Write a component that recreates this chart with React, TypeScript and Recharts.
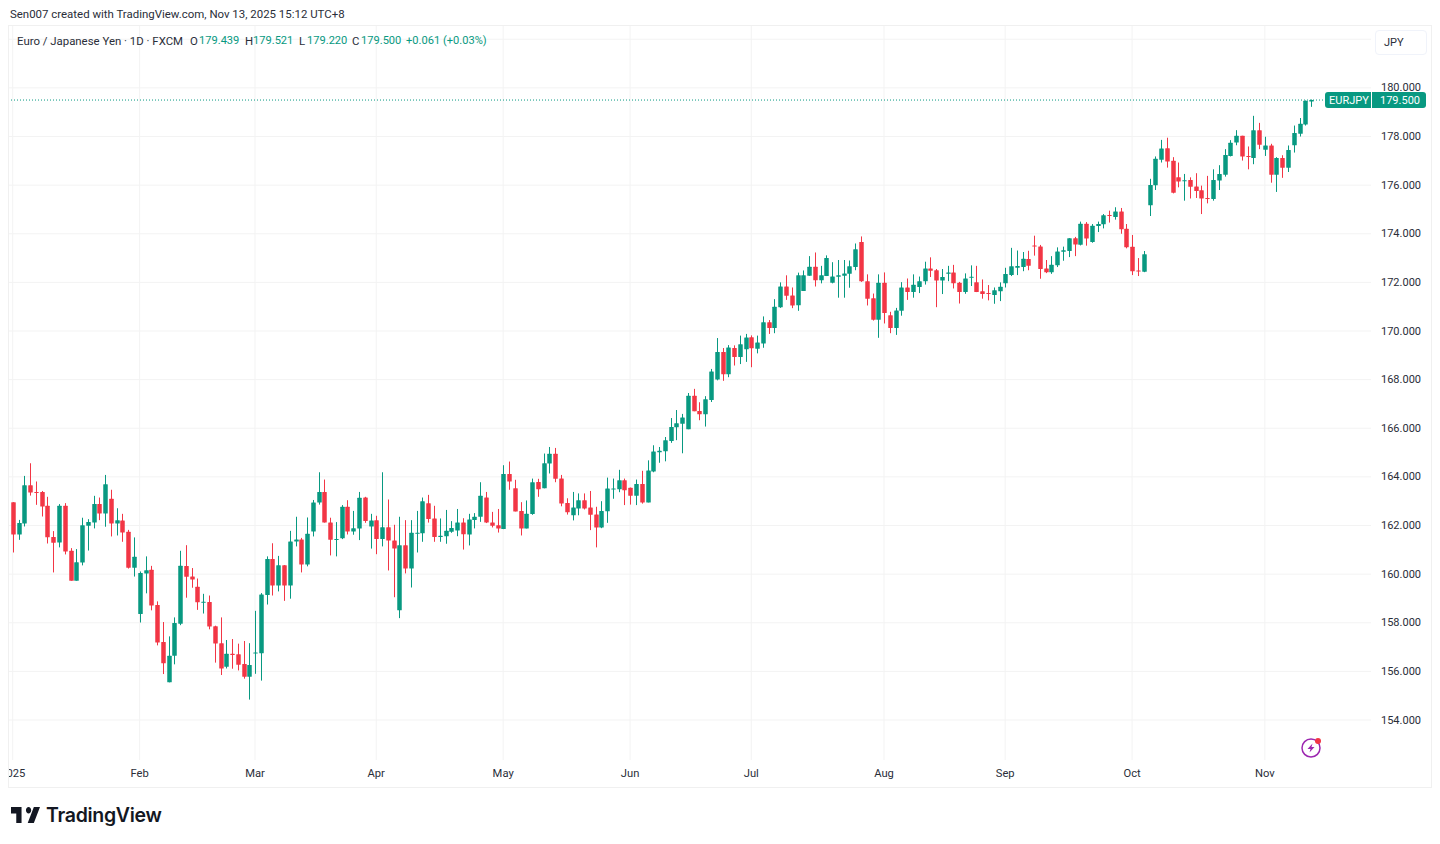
import React from 'react';
import { ComposedChart, Bar, XAxis, YAxis, CartesianGrid, ReferenceLine } from 'recharts';

const UP = '#089981';
const DOWN = '#f23645';
const GRID = '#f3f3f3';
const TEXT = '#2a2e39';
const FONT = 'Roboto, sans-serif';

// Daily EURJPY candles, Jan 2025 to Nov 13 2025
const opens = [
  162.96, 161.63, 162.08, 163.66, 163.38, 163.38, 162.81, 161.53, 161.30, 162.81,
  160.96, 159.73, 160.48, 161.99, 162.12, 162.88, 162.49, 163.10, 162.08, 162.21,
  161.74, 160.26, 158.36, 160.03, 160.18, 158.73, 157.21, 155.55, 156.64, 157.96,
  160.33, 159.90, 159.48, 158.84, 158.85, 157.86, 157.16, 156.19, 156.73, 156.70,
  156.30, 155.78, 156.75, 156.75, 159.14, 160.62, 159.53, 160.37, 159.53, 161.34,
  161.42, 160.40, 161.75, 162.95, 163.38, 162.12, 161.41, 161.48, 162.77, 161.75,
  161.88, 163.15, 161.96, 162.22, 161.45, 161.93, 161.38, 158.51, 161.19, 160.23,
  161.67, 161.68, 162.92, 162.29, 161.53, 161.56, 161.74, 161.79, 162.12, 161.63,
  162.23, 162.36, 163.15, 162.12, 162.01, 161.86, 164.12, 163.53, 162.60, 161.88,
  162.47, 163.79, 163.53, 164.55, 164.95, 163.93, 162.93, 162.42, 162.70, 163.04,
  162.74, 162.45, 161.92, 162.59, 163.49, 163.49, 163.86, 163.55, 163.22, 163.71,
  162.95, 164.22, 165.01, 165.05, 165.48, 166.04, 166.19, 165.96, 167.34, 166.71,
  166.58, 167.16, 168.01, 169.14, 168.22, 169.30, 168.93, 169.25, 169.74, 169.27,
  169.49, 170.36, 170.12, 170.98, 171.83, 171.46, 171.06, 171.65, 172.27, 172.64,
  172.09, 172.26, 171.98, 172.23, 172.27, 172.35, 172.63, 173.66, 172.05, 171.35,
  170.46, 171.98, 170.65, 170.12, 170.83, 171.79, 171.60, 171.81, 172.05, 172.57,
  172.50, 172.08, 172.35, 172.41, 171.98, 171.60, 172.19, 172.01, 171.64, 171.56,
  171.48, 171.64, 171.96, 172.30, 172.60, 172.63, 172.96, 173.52, 173.48, 172.57,
  172.42, 172.70, 173.26, 173.29, 173.82, 173.55, 174.41, 173.66, 174.32, 174.39,
  174.77, 174.69, 174.92, 174.21, 173.47, 172.49, 172.44, 175.17, 175.99, 177.04,
  177.52, 177.00, 176.32, 176.17, 176.21, 175.94, 175.79, 175.47, 175.43, 176.19,
  176.43, 177.20, 177.75, 178.03, 177.20, 177.12, 178.26, 177.45, 177.63, 176.43,
  177.12, 176.71, 177.64, 178.11, 178.49, 179.439,
];

const closes = [
  161.63, 162.10, 163.66, 163.36, 163.36, 162.78, 161.52, 161.29, 162.81, 160.93,
  159.73, 160.49, 162.01, 162.14, 162.88, 162.49, 163.70, 162.08, 162.22, 161.71,
  160.26, 160.71, 160.05, 160.16, 158.71, 157.19, 156.33, 156.64, 157.99, 160.34,
  159.89, 159.78, 158.84, 158.86, 157.85, 157.15, 156.12, 156.73, 156.67, 156.27,
  155.78, 156.26, 156.78, 159.16, 160.62, 159.53, 160.37, 159.53, 161.34, 161.42,
  160.40, 161.66, 162.95, 163.38, 162.12, 161.41, 161.44, 162.77, 161.75, 161.89,
  163.14, 162.19, 162.21, 161.45, 161.93, 161.38, 161.05, 161.19, 160.23, 161.70,
  161.70, 163.00, 162.27, 161.53, 161.58, 161.78, 161.90, 162.12, 161.64, 162.25,
  162.36, 163.22, 162.12, 161.99, 161.88, 164.12, 163.81, 162.58, 161.88, 162.48,
  163.78, 163.49, 164.56, 164.95, 163.92, 162.90, 162.55, 162.74, 163.04, 162.70,
  162.44, 161.92, 162.60, 163.52, 163.52, 163.86, 163.45, 163.22, 163.71, 162.95,
  164.26, 165.04, 165.07, 165.51, 166.05, 166.21, 166.44, 167.34, 166.70, 166.58,
  167.19, 168.33, 169.14, 168.22, 169.32, 168.93, 169.45, 169.73, 169.29, 169.53,
  170.36, 170.12, 171.00, 171.83, 171.45, 171.05, 172.29, 172.29, 172.64, 172.09,
  172.29, 173.00, 172.24, 172.29, 172.37, 172.66, 173.36, 172.05, 171.33, 170.46,
  171.98, 170.74, 170.12, 170.84, 171.79, 171.60, 171.90, 172.05, 172.57, 172.48,
  172.08, 172.22, 172.41, 171.96, 171.60, 172.16, 172.23, 171.60, 171.52, 171.53,
  171.68, 171.82, 172.34, 172.66, 172.67, 172.97, 172.68, 173.49, 172.55, 172.42,
  172.73, 173.27, 173.32, 173.82, 173.56, 174.41, 173.80, 174.33, 174.40, 174.76,
  174.74, 174.92, 174.19, 173.44, 172.46, 172.46, 173.16, 176.01, 177.08, 177.51,
  176.97, 175.69, 176.15, 176.20, 175.93, 175.76, 175.45, 175.45, 176.21, 176.46,
  177.24, 177.74, 178.03, 177.18, 177.18, 178.26, 177.66, 177.63, 176.43, 177.12,
  176.71, 177.44, 178.14, 178.52, 179.47, 179.50,
];

const highs = [
  162.96, 162.23, 164.04, 164.56, 163.81, 163.42, 163.18, 161.77, 162.88, 162.92,
  161.07, 161.03, 162.32, 162.26, 163.22, 163.15, 164.08, 163.47, 162.71, 162.48,
  161.82, 161.51, 160.11, 160.73, 160.34, 158.88, 158.03, 157.44, 158.22, 160.96,
  161.19, 160.25, 159.82, 159.19, 159.12, 157.88, 158.22, 157.29, 157.33, 157.14,
  157.25, 157.16, 158.49, 159.22, 160.73, 161.27, 160.75, 160.37, 161.78, 162.36,
  161.49, 162.33, 163.05, 164.19, 163.89, 162.32, 162.14, 162.84, 163.04, 162.60,
  163.38, 163.18, 162.48, 162.40, 164.19, 163.07, 162.03, 162.36, 162.22, 162.22,
  162.60, 163.15, 163.26, 162.81, 162.29, 162.64, 162.18, 162.68, 162.30, 162.48,
  162.51, 163.78, 163.38, 162.56, 162.68, 164.48, 164.63, 163.88, 162.96, 163.03,
  163.93, 163.92, 164.96, 165.23, 165.19, 164.08, 163.12, 163.38, 163.32, 163.32,
  163.42, 162.77, 163.00, 163.97, 163.93, 164.29, 163.93, 163.56, 163.89, 164.25,
  164.68, 165.30, 165.23, 165.64, 166.42, 166.75, 166.59, 167.45, 167.62, 167.07,
  167.32, 168.44, 169.71, 169.30, 169.42, 169.41, 169.81, 169.88, 169.82, 169.81,
  170.60, 170.45, 171.31, 172.00, 172.29, 171.79, 172.40, 172.49, 173.08, 173.23,
  172.68, 173.11, 172.83, 172.92, 172.92, 172.90, 173.60, 173.89, 172.33, 171.54,
  172.33, 172.41, 170.79, 170.95, 172.01, 172.16, 172.33, 172.24, 172.85, 173.03,
  172.55, 172.55, 172.68, 172.72, 172.02, 172.37, 172.70, 172.68, 172.12, 171.89,
  171.79, 172.00, 172.60, 173.42, 173.31, 173.25, 173.30, 173.92, 173.54, 172.92,
  173.08, 173.44, 173.47, 173.82, 173.87, 174.50, 174.48, 174.40, 174.50, 174.81,
  174.95, 175.09, 175.06, 174.40, 173.95, 173.00, 173.29, 176.26, 177.18, 177.86,
  177.95, 177.15, 176.93, 176.46, 176.32, 176.49, 175.98, 176.38, 176.65, 176.82,
  177.48, 177.85, 178.26, 178.03, 177.59, 178.85, 178.56, 177.99, 177.70, 177.15,
  177.23, 177.63, 178.45, 178.76, 179.48, 179.521,
];

const lows = [
  160.89, 161.41, 161.96, 163.23, 162.85, 162.37, 161.26, 160.07, 161.10, 160.81,
  159.73, 159.73, 160.36, 160.97, 161.88, 162.22, 161.95, 161.55, 161.59, 161.33,
  160.23, 159.90, 158.01, 159.21, 158.51, 157.07, 155.89, 155.55, 156.29, 157.90,
  159.03, 159.44, 158.53, 158.38, 157.73, 156.36, 155.85, 156.12, 156.11, 156.04,
  155.70, 154.84, 155.90, 155.62, 158.75, 159.12, 159.29, 158.90, 158.99, 161.14,
  160.07, 160.32, 161.55, 162.86, 162.12, 160.77, 160.73, 161.44, 161.63, 161.62,
  161.40, 162.11, 161.05, 160.82, 161.14, 160.15, 159.05, 158.19, 160.03, 159.45,
  160.89, 161.33, 162.12, 161.33, 161.33, 161.25, 161.70, 161.56, 161.01, 161.18,
  161.88, 162.15, 162.10, 161.92, 161.71, 161.85, 163.47, 162.58, 161.59, 161.88,
  162.44, 163.18, 163.53, 164.14, 163.78, 162.79, 162.45, 162.21, 162.42, 162.66,
  161.81, 161.10, 161.89, 162.11, 163.10, 163.37, 162.84, 162.86, 162.84, 162.90,
  162.95, 164.19, 164.58, 164.64, 165.40, 165.51, 164.97, 165.96, 166.70, 166.33,
  166.07, 167.08, 167.97, 167.95, 168.10, 168.58, 168.64, 168.73, 168.51, 169.08,
  169.31, 169.88, 169.91, 170.95, 171.28, 170.94, 170.83, 171.65, 172.27, 171.83,
  171.96, 172.26, 171.96, 171.37, 171.37, 171.78, 172.50, 172.02, 171.05, 170.43,
  169.72, 170.31, 169.91, 169.84, 170.63, 171.28, 171.37, 171.56, 171.91, 172.22,
  170.98, 171.52, 172.05, 171.75, 171.13, 171.53, 171.85, 171.60, 171.33, 171.26,
  171.12, 171.23, 171.79, 172.26, 172.30, 172.46, 172.50, 173.10, 172.15, 172.38,
  172.35, 172.63, 172.89, 173.04, 173.08, 173.52, 173.51, 173.63, 174.07, 174.22,
  174.46, 174.58, 174.00, 173.40, 172.30, 172.26, 172.42, 174.73, 175.80, 176.93,
  176.72, 175.66, 175.91, 175.36, 175.45, 175.47, 174.81, 175.25, 175.36, 175.80,
  176.35, 177.18, 177.64, 177.01, 176.65, 176.86, 177.48, 177.20, 176.10, 175.72,
  176.30, 176.54, 177.34, 178.00, 178.45, 179.22,
];

// candle index where each month starts
const monthIndex = [0, 22, 42, 63, 85, 107, 128, 151, 172, 194, 217];
const monthLabels = ['2025', 'Feb', 'Mar', 'Apr', 'May', 'Jun', 'Jul', 'Aug', 'Sep', 'Oct', 'Nov'];
const priceTicks = [154, 156, 158, 160, 162, 164, 166, 168, 170, 172, 174, 176, 178, 180, 182];

const lastPrice = 179.5;

const candles = opens.map((open, i) => ({
  i,
  open,
  close: closes[i],
  high: highs[i],
  low: lows[i],
}));

// Bar spans low..high, the body is placed inside it from the same scale
const Candle = (props: any) => {
  const { x, y, width, height, payload } = props;
  const { open, close, high, low } = payload;
  const color = close >= open ? UP : DOWN;
  const h = Math.abs(height);
  const perUnit = high > low ? h / (high - low) : 0;
  const mid = Math.round(x + width / 2) + 0.5;
  const top = y + (high - Math.max(open, close)) * perUnit;
  const bodyH = Math.max(Math.abs(open - close) * perUnit, 1);
  return (
    <g>
      <line x1={mid} x2={mid} y1={y} y2={y + h} stroke={color} strokeWidth={1} />
      <rect x={mid - 2.25} y={top} width={4.5} height={bodyH} rx={0.5} fill={color} />
    </g>
  );
};

const PriceTick = (props: any) => {
  const { x, y, payload } = props;
  if (payload.value > 180) return <g />;
  return (
    <text x={x + 2} y={y + 3.5} fill={TEXT} fontSize={11} fontFamily={FONT}>
      {payload.value.toFixed(3)}
    </text>
  );
};

const label: React.CSSProperties = { position: 'absolute', whiteSpace: 'nowrap', fontFamily: FONT };

const LegendValue = ({ x, children }: { x: number; children: string }) => (
  <span style={{ ...label, left: x, top: 33.5, fontSize: 11.1, lineHeight: '14px', color: UP }}>{children}</span>
);

const LegendText = ({ x, children }: { x: number; children: string }) => (
  <span style={{ ...label, left: x, top: 33.5, fontSize: 11.4, lineHeight: '14px', color: TEXT }}>{children}</span>
);

export default function App() {
  return (
    <div style={{ position: 'absolute', left: 0, top: 0, width: 1440, height: 844, background: '#fff', overflow: 'hidden' }}>
      <span style={{ ...label, left: 10, top: 7, fontSize: 11.45, lineHeight: '14px', color: TEXT }}>
        Sen007 created with TradingView.com, Nov 13, 2025 15:12 UTC+8
      </span>

      <div style={{ position: 'absolute', left: 9, top: 26 }}>
        <ComposedChart
          width={1422}
          height={761}
          data={candles}
          margin={{ top: 0, right: 0, bottom: 0, left: 0 }}
        >
          <CartesianGrid stroke={GRID} strokeWidth={1} syncWithTicks />
          <XAxis
            dataKey="i"
            type="number"
            domain={[-0.64, 235.4]}
            ticks={monthIndex}
            interval={0}
            height={27}
            axisLine={false}
            tickLine={false}
            tickMargin={3}
            tickFormatter={(v: number) => monthLabels[monthIndex.indexOf(v)]}
            tick={{ fill: TEXT, fontSize: 11.2, fontFamily: FONT }}
          />
          <YAxis
            orientation="right"
            type="number"
            domain={[152.355, 182.545]}
            ticks={priceTicks}
            interval={0}
            width={60}
            axisLine={false}
            tickLine={false}
            tick={<PriceTick />}
          />
          <ReferenceLine y={lastPrice} stroke={UP} strokeWidth={1} strokeDasharray="1 2" />
          <Bar
            dataKey={(d: any) => [d.low, d.high]}
            barSize={4}
            shape={<Candle />}
            isAnimationActive={false}
          />
        </ComposedChart>
      </div>

      {/* pane border */}
      <div style={{ position: 'absolute', left: 8, top: 25, width: 1422, height: 761, border: '1px solid #f0f0f0', pointerEvents: 'none' }} />

      <LegendText x={17}>Euro / Japanese Yen · 1D · FXCM</LegendText>
      <LegendText x={190}>O</LegendText>
      <LegendValue x={199}>179.439</LegendValue>
      <LegendText x={245}>H</LegendText>
      <LegendValue x={253}>179.521</LegendValue>
      <LegendText x={299}>L</LegendText>
      <LegendValue x={307}>179.220</LegendValue>
      <LegendText x={352}>C</LegendText>
      <LegendValue x={361}>179.500</LegendValue>
      <LegendValue x={406}>+0.061 (+0.03%)</LegendValue>

      {/* currency button */}
      <div style={{ position: 'absolute', left: 1375, top: 30, width: 50, height: 23, border: '1px solid #f0f3fa', borderRadius: 4, background: '#fff' }} />
      <span style={{ ...label, left: 1384, top: 35.5, fontSize: 11, lineHeight: '14px', color: TEXT }}>JPY</span>

      {/* last price tag */}
      <div style={{ position: 'absolute', left: 1325, top: 92, width: 46, height: 16, background: UP, borderRadius: '3px 0 0 3px' }} />
      <div style={{ position: 'absolute', left: 1372, top: 92, width: 54, height: 16, background: UP, borderRadius: '0 3px 3px 0' }} />
      <span style={{ ...label, left: 1329, top: 94, fontSize: 11, lineHeight: '14px', color: '#fff' }}>EURJPY</span>
      <span style={{ ...label, left: 1380, top: 94, fontSize: 11, lineHeight: '14px', color: '#fff' }}>179.500</span>

      {/* lightning badge */}
      <svg style={{ position: 'absolute', left: 1299, top: 736 }} width={24} height={24} viewBox="0 0 24 24">
        <circle cx={12} cy={12} r={9} fill="none" stroke="#9c27b0" strokeWidth={1.5} />
        <path d="M13.5 7.5 L8.5 13 H11.5 L10.5 16.5 L15.5 11 H12.5 Z" fill="#9c27b0" />
        <circle cx={19} cy={5} r={3} fill="#f23645" />
      </svg>

      {/* logo */}
      <svg style={{ position: 'absolute', left: 11, top: 807 }} width={29} height={16} viewBox="2 6 33 15" preserveAspectRatio="none">
        <path d="M14 6H2V12H8V21H14V6ZM28 21H21L28 6H35L28 21ZM22 12C23.66 12 25 10.66 25 9C25 7.34 23.66 6 22 6C20.34 6 19 7.34 19 9C19 10.66 20.34 12 22 12Z" fill="#131722" />
      </svg>
      <span style={{ ...label, left: 46, top: 802, fontSize: 19.5, lineHeight: '26px', fontWeight: 600, color: '#131722', fontFamily: 'Inter, sans-serif', letterSpacing: -0.3 }}>
        TradingView
      </span>
    </div>
  );
}
